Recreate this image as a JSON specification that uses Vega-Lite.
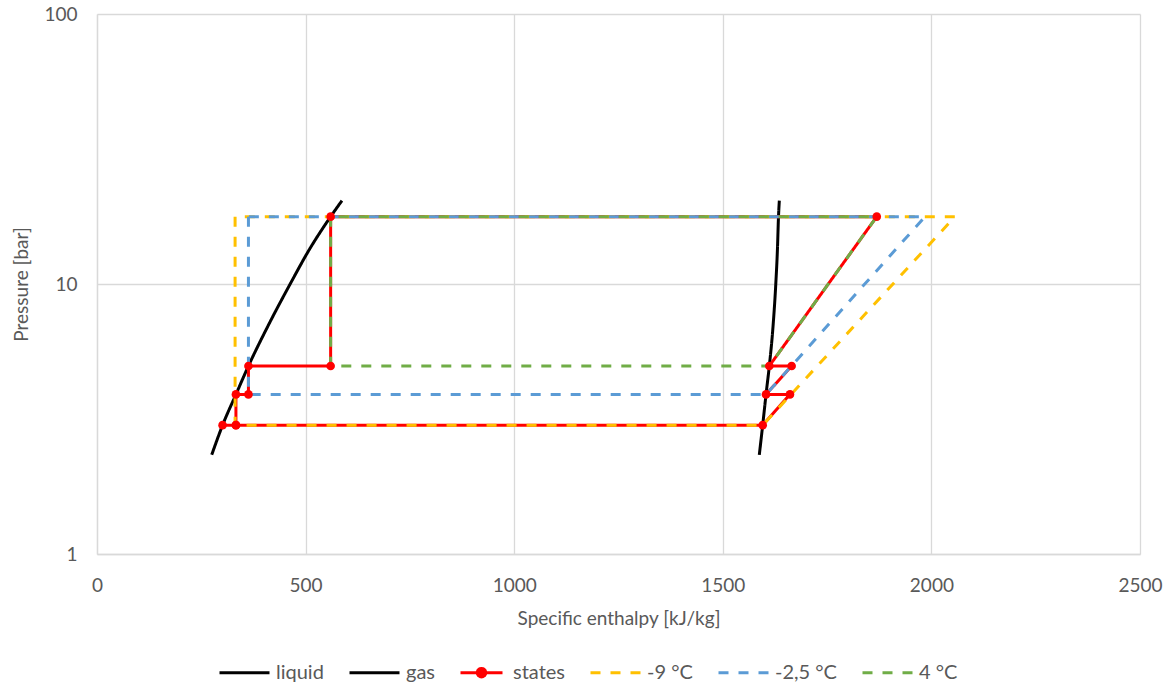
{
  "$schema": "https://vega.github.io/schema/vega-lite/v6.json",
  "autosize": {"type": "none"},
  "width": 1043,
  "height": 540,
  "padding": {"left": 97, "top": 14, "right": 27, "bottom": 131},
  "background": "white",
  "config": {
    "font": "Lato",
    "view": {"stroke": null},
    "axis": {"labelColor": "#595959", "titleColor": "#595959", "labelFont": "Lato", "titleFont": "Lato", "labelFontSize": 19, "titleFontSize": 19, "titleFontWeight": "normal", "gridColor": "#D9D9D9", "gridWidth": 1.3, "domainColor": "#D9D9D9", "domainWidth": 1.3, "ticks": false}
  },
  "datasets": {
    "pts": [
      {"s": "liquid", "i": 1, "h": 275, "p": 2.33},
      {"s": "liquid", "i": 2, "h": 301, "p": 3.0},
      {"s": "liquid", "i": 3, "h": 333, "p": 3.9},
      {"s": "liquid", "i": 4, "h": 363, "p": 4.97},
      {"s": "liquid", "i": 5, "h": 410, "p": 7},
      {"s": "liquid", "i": 6, "h": 463, "p": 10},
      {"s": "liquid", "i": 7, "h": 510, "p": 13.5},
      {"s": "liquid", "i": 8, "h": 560, "p": 17.76},
      {"s": "liquid", "i": 9, "h": 587, "p": 20.35},
      {"s": "gas", "i": 1, "h": 1587.5, "p": 2.33},
      {"s": "gas", "i": 2, "h": 1595.6, "p": 3.0},
      {"s": "gas", "i": 3, "h": 1603.6, "p": 3.9},
      {"s": "gas", "i": 4, "h": 1611.5, "p": 4.97},
      {"s": "gas", "i": 5, "h": 1620.5, "p": 7},
      {"s": "gas", "i": 6, "h": 1627, "p": 10},
      {"s": "gas", "i": 7, "h": 1631, "p": 13.5},
      {"s": "gas", "i": 8, "h": 1633.5, "p": 17.76},
      {"s": "gas", "i": 9, "h": 1635.5, "p": 20.35},
      {"s": "states", "i": 1, "h": 301, "p": 3.0},
      {"s": "states", "i": 2, "h": 333, "p": 3.0},
      {"s": "states", "i": 3, "h": 1595.6, "p": 3.0},
      {"s": "states", "i": 4, "h": 1661, "p": 3.9},
      {"s": "states", "i": 5, "h": 1603.6, "p": 3.9},
      {"s": "states", "i": 6, "h": 1665, "p": 4.97},
      {"s": "states", "i": 7, "h": 1611.5, "p": 4.97},
      {"s": "states", "i": 8, "h": 1869, "p": 17.76},
      {"s": "states", "i": 9, "h": 560, "p": 17.76},
      {"s": "states", "i": 10, "h": 560, "p": 4.97},
      {"s": "states", "i": 11, "h": 363, "p": 4.97},
      {"s": "states", "i": 12, "h": 363, "p": 3.9},
      {"s": "states", "i": 13, "h": 333, "p": 3.9},
      {"s": "states", "i": 14, "h": 333, "p": 3.0},
      {"s": "-9 °C", "i": 1, "h": 331, "p": 17.76},
      {"s": "-9 °C", "i": 2, "h": 331, "p": 3.0},
      {"s": "-9 °C", "i": 3, "h": 1595.6, "p": 3.0},
      {"s": "-9 °C", "i": 4, "h": 2056.6, "p": 17.76},
      {"s": "-9 °C", "i": 5, "h": 331, "p": 17.76},
      {"s": "-2,5 °C", "i": 1, "h": 363, "p": 17.76},
      {"s": "-2,5 °C", "i": 2, "h": 363, "p": 3.9},
      {"s": "-2,5 °C", "i": 3, "h": 1603.6, "p": 3.9},
      {"s": "-2,5 °C", "i": 4, "h": 1984.7, "p": 17.76},
      {"s": "-2,5 °C", "i": 5, "h": 363, "p": 17.76},
      {"s": "4 °C", "i": 1, "h": 560, "p": 17.76},
      {"s": "4 °C", "i": 2, "h": 560, "p": 4.97},
      {"s": "4 °C", "i": 3, "h": 1611.5, "p": 4.97},
      {"s": "4 °C", "i": 4, "h": 1869, "p": 17.76},
      {"s": "4 °C", "i": 5, "h": 560, "p": 17.76}
    ]
  },
  "data": {"name": "pts"},
  "encoding": {
    "x": {"field": "h", "type": "quantitative", "scale": {"domain": [0, 2500], "nice": false, "zero": false}, "axis": {"values": [0, 500, 1000, 1500, 2000, 2500], "format": "d", "title": "Specific enthalpy [kJ/kg]", "labelPadding": 22, "titlePadding": 14, "labelFlush": false}},
    "y": {"field": "p", "type": "quantitative", "scale": {"type": "log", "domain": [1, 100], "nice": false}, "axis": {"values": [1, 10, 100], "format": "d", "title": "Pressure [bar]", "labelPadding": 20, "titlePadding": 12, "labelFlush": false}},
    "order": {"field": "i", "type": "quantitative"}
  },
  "layer": [
    {
      "transform": [{"filter": "datum.s === 'liquid' || datum.s === 'gas'"}],
      "mark": {"type": "line", "strokeWidth": 3, "strokeCap": "butt", "interpolate": "monotone"},
      "encoding": {
        "color": {"field": "s", "type": "nominal", "scale": {"domain": ["liquid", "gas", "states", "-9 °C", "-2,5 °C", "4 °C"], "range": ["#000000", "#000000", "#FF0000", "#FFC000", "#5B9BD5", "#70AD47"]},
          "legend": {"orient": "none", "legendX": 121, "legendY": 632, "direction": "horizontal", "title": null, "symbolType": "stroke", "symbolSize": 2500, "symbolStrokeWidth": 3, "labelFont": "Lato", "labelFontSize": 20, "labelColor": "#595959", "labelOffset": 5, "columnPadding": 19,
            "encode": {"symbols": {"update": {"shape": {"signal": "datum.label === 'states' ? 'M-0.84,0H0.84M0.17,0A0.17,0.17,0,1,1,-0.17,0A0.17,0.17,0,1,1,0.17,0Z' : 'stroke'"}, "fill": {"signal": "datum.label === 'states' ? '#FF0000' : 'transparent'"}}}}}},
        "strokeDash": {"field": "s", "type": "nominal", "scale": {"domain": ["liquid", "gas", "states", "-9 °C", "-2,5 °C", "4 °C"], "range": [[1, 0], [1, 0], [1, 0], [10, 10], [10, 10], [10, 10]]}, "legend": null}
      }
    },
    {
      "transform": [{"filter": "datum.s === 'states'"}],
      "mark": {"type": "line", "strokeWidth": 3, "strokeCap": "butt"},
      "encoding": {"color": {"field": "s", "type": "nominal"}, "strokeDash": {"field": "s", "type": "nominal"}}
    },
    {
      "transform": [{"filter": "datum.s === '-9 °C'"}],
      "mark": {"type": "line", "strokeWidth": 3, "strokeCap": "butt"},
      "encoding": {"color": {"field": "s", "type": "nominal"}, "strokeDash": {"field": "s", "type": "nominal"}}
    },
    {
      "transform": [{"filter": "datum.s === '-2,5 °C'"}],
      "mark": {"type": "line", "strokeWidth": 3, "strokeCap": "butt"},
      "encoding": {"color": {"field": "s", "type": "nominal"}, "strokeDash": {"field": "s", "type": "nominal"}}
    },
    {
      "transform": [{"filter": "datum.s === '4 °C'"}],
      "mark": {"type": "line", "strokeWidth": 3, "strokeCap": "butt"},
      "encoding": {"color": {"field": "s", "type": "nominal"}, "strokeDash": {"field": "s", "type": "nominal"}}
    },
    {
      "transform": [{"filter": "datum.s === 'states'"}],
      "mark": {"type": "point", "filled": true, "size": 75, "opacity": 1, "color": "#FF0000"},
      "encoding": {}
    }
  ]
}
